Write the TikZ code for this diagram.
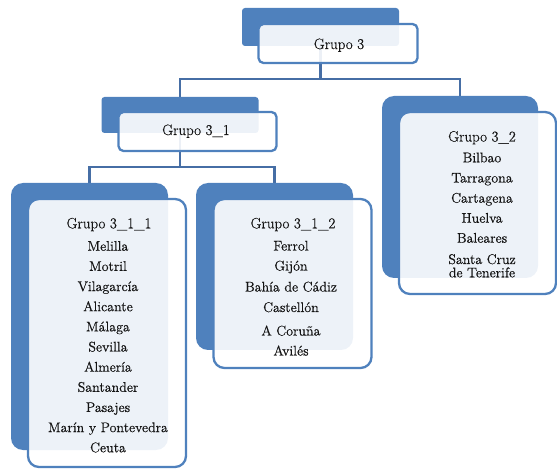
\documentclass[tikz,border=0pt]{standalone}
\usepackage{fontspec}
\newfontfamily\reffont{Latin Modern Roman}[FakeBold=0.5]
\definecolor{sablue}{RGB}{79,129,189}
\definecolor{lineblue}{RGB}{70,110,165}
\pgfdeclarelayer{bglayer}
\pgfsetlayers{bglayer,main}
\tikzset{
  backbox/.style={fill=sablue, draw=none, inner sep=0pt, rounded corners=12pt},
  frontbox/.style={draw=sablue, line width=2.3pt, fill=white, fill opacity=0.9, inner sep=0pt, rounded corners=11pt},
  smallback/.style={backbox, rounded corners=3pt},
  smallfront/.style={frontbox, rounded corners=5pt},
  conn/.style={draw=lineblue, line width=2.3pt},
  hdr/.style={font=\reffont\fontsize{15}{18}\selectfont, inner sep=0pt, anchor=base, text=black!92},
  item/.style={font=\reffont\fontsize{14}{16}\selectfont, inner sep=0pt, anchor=base, text=black!92},
}
\begin{document}
\begin{tikzpicture}[x=1pt, y=-1pt]
\useasboundingbox (0,0) rectangle (557,470);
% back boxes
\node[smallback, minimum width=157pt, minimum height=38pt] (g3back) at (320.5,27) {};
\node[smallback, minimum width=157pt, minimum height=36pt] (g31back) at (180,115) {};
\node[backbox, minimum width=156pt, minimum height=182pt] (g32back) at (460,187) {};
\node[backbox, minimum width=157pt, minimum height=267pt] (g311back) at (89.5,316.5) {};
\node[backbox, minimum width=157pt, minimum height=167pt] (g312back) at (274.5,266.5) {};
\coordinate (hub1) at (320.5,79);
\coordinate (hub2) at (180,167);
% connectors (behind boxes)
\begin{pgfonlayer}{bglayer}
\draw[conn] (g3back.center) -- (hub1) -| (g31back.north);
\draw[conn] (hub1) -| (g32back.north);
\draw[conn] (g31back.center) -- (hub2) -| (g311back.north);
\draw[conn] (hub2) -| (g312back.north);
\end{pgfonlayer}
% front boxes
\node[smallfront, minimum width=159pt, minimum height=39pt] (g3front) at (338,43.5) {};
\node[smallfront, minimum width=158pt, minimum height=39pt] (g31front) at (197.5,131.5) {};
\node[frontbox, minimum width=157pt, minimum height=182pt] (g32front) at (477.5,203) {};
\node[frontbox, minimum width=158pt, minimum height=268pt] (g311front) at (107,333) {};
\node[frontbox, minimum width=158pt, minimum height=169pt] (g312front) at (292.5,283.5) {};
% texts
\node[hdr] (t3) at (339,49) {Grupo 3};
\node[hdr] (t31) at (196,135) {Grupo 3\_1};
\node[hdr] (t32) at (482,141.5) {Grupo 3\_2};
\node[hdr] (t311) at (109,228.3) {Grupo 3\_1\_1};
\node[hdr] (t312) at (293,228.3) {Grupo 3\_1\_2};
\foreach \t [count=\i] in {Melilla, Motril, Vilagarcía, Alicante, Málaga, Sevilla, Almería, Santander, Pasajes, Marín y Pontevedra, Ceuta}
  \node[item] (a\i) at (108, 230.6+20.15*\i) {\t};
\node[item] (b1) at (291,250.5) {Ferrol};
\node[item] (b2) at (291,270.5) {Gijón};
\node[item] (b3) at (291,291.5) {Bahía de Cádiz};
\node[item] (b4) at (291,312) {Castellón};
\node[item] (b5) at (291,335.5) {A Coruña};
\node[item] (b6) at (291,355.5) {Avilés};
\node[item] (c1) at (482,162.3) {Bilbao};
\node[item] (c2) at (482,182.5) {Tarragona};
\node[item] (c3) at (482,202.7) {Cartagena};
\node[item] (c4) at (482,222.7) {Huelva};
\node[item] (c5) at (482,242.7) {Baleares};
\node[item] (c6) at (482,264) {Santa Cruz};
\node[item] (c7) at (482,277.3) {de Tenerife};
\end{tikzpicture}
\end{document}
